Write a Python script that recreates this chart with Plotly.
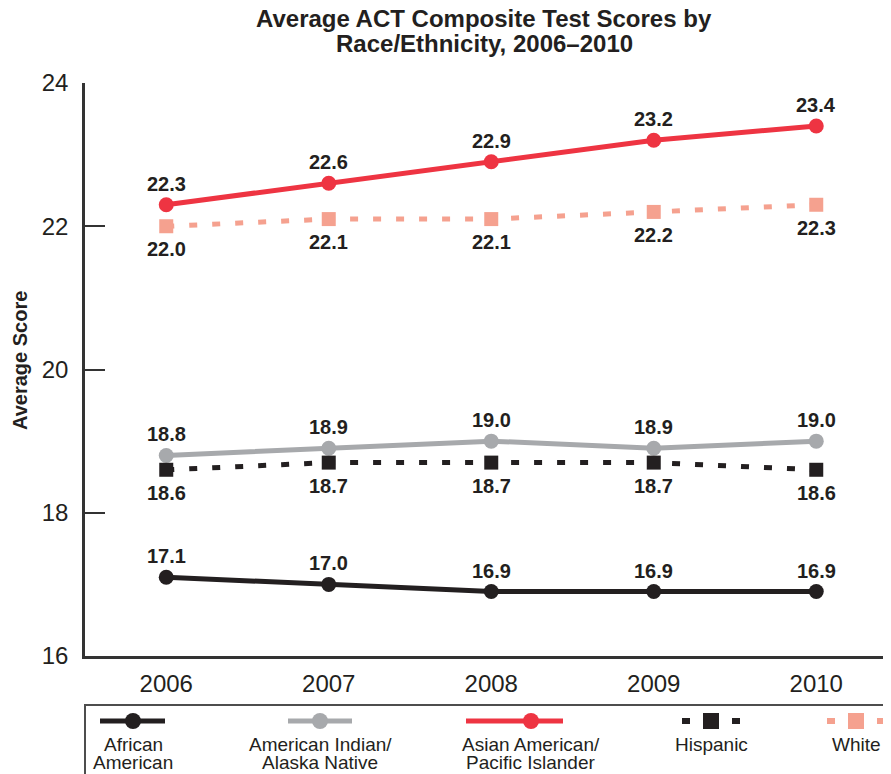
import plotly.graph_objects as go

# ---------------- data ----------------
years = [2006, 2007, 2008, 2009, 2010]
series_names = ["African American", "American Indian/Alaska Native",
                "Asian American/Pacific Islander", "Hispanic", "White"]
african_american = [17.1, 17.0, 16.9, 16.9, 16.9]
american_indian = [18.8, 18.9, 19.0, 18.9, 19.0]
asian_american = [22.3, 22.6, 22.9, 23.2, 23.4]
hispanic = [18.6, 18.7, 18.7, 18.7, 18.6]
white = [22.0, 22.1, 22.1, 22.2, 22.3]
legend_line1 = ["African", "American Indian/", "Asian American/", "Hispanic", "White"]
legend_line2 = ["American", "Alaska Native", "Pacific Islander", "", ""]
title_lines = ["Average ACT Composite Test Scores by", "Race/Ethnicity, 2006–2010"]
y_ticks = [16, 18, 20, 22, 24]

# ---------------- style ----------------
BLACK = "#231f20"
GRAY = "#a7a9ac"
RED = "#ee3442"
SALMON = "#f5a18f"
FONT = "Liberation Sans, Arial, Helvetica, sans-serif"

OFF = 8  # page body margin in the browser
W, H = 891 - OFF, 774 - OFF
L, T = 85 - OFF, 83 - OFF
B = H - (656 - OFF)
R = 0
PW, PH = W - L - R, H - T - B


def px(x):
    """reference page x-pixel -> paper coordinate"""
    return (x - OFF - L) / PW


def py(y):
    """reference page y-pixel -> paper coordinate"""
    return (H - B - (y - OFF)) / PH


series = [
    dict(name=series_names[0], y=african_american, color=BLACK, dash="solid", symbol="circle", label="above"),
    dict(name=series_names[1], y=american_indian, color=GRAY, dash="solid", symbol="circle", label="above"),
    dict(name=series_names[2], y=asian_american, color=RED, dash="solid", symbol="circle", label="above"),
    dict(name=series_names[3], y=hispanic, color=BLACK, dash="8px,15px", symbol="square", label="below"),
    dict(name=series_names[4], y=white, color=SALMON, dash="8px,15px", symbol="square", label="below"),
]

fig = go.Figure()
annotations = []
for s in series:
    fig.add_trace(go.Scatter(
        x=years, y=s["y"], name=s["name"], mode="lines+markers",
        line=dict(color=s["color"], width=5, dash=s["dash"]),
        marker=dict(symbol=s["symbol"], size=15 if s["symbol"] == "circle" else 14,
                    color=s["color"], line=dict(width=0)),
        showlegend=False, cliponaxis=False,
    ))
    for xv, yv in zip(years, s["y"]):
        annotations.append(dict(
            x=xv, y=yv, xref="x", yref="y", text=f"{yv:.1f}", showarrow=False,
            yshift=21 if s["label"] == "above" else -23,
            font=dict(family=FONT, size=20, color=BLACK, weight=700),
        ))

# ---------------- manual legend ----------------
shapes = []
shapes.append(dict(type="rect", xref="paper", yref="paper",
                   x0=px(85), x1=px(905), y0=py(705), y1=py(800),
                   line=dict(color="#4d4d4d", width=2), fillcolor="rgba(0,0,0,0)"))
leg_cy = 721
leg_centers = [133, 320, 531, 711, 856]
line_spans = [(100, 165), (288, 352), (466, 563)]
leg_colors = [BLACK, GRAY, RED, BLACK, SALMON]
for i in range(3):
    x0, x1 = line_spans[i]
    shapes.append(dict(type="line", xref="paper", yref="paper",
                       x0=px(x0), x1=px(x1), y0=py(leg_cy), y1=py(leg_cy),
                       line=dict(color=leg_colors[i], width=5)))
    c = leg_centers[i]
    shapes.append(dict(type="circle", xref="paper", yref="paper",
                       x0=px(c - 8), x1=px(c + 8), y0=py(leg_cy + 8), y1=py(leg_cy - 8),
                       fillcolor=leg_colors[i], line=dict(width=0)))
for i in (3, 4):
    c = leg_centers[i]
    col = leg_colors[i]
    shapes.append(dict(type="rect", xref="paper", yref="paper",
                       x0=px(c - 8), x1=px(c + 8), y0=py(leg_cy + 8), y1=py(leg_cy - 8),
                       fillcolor=col, line=dict(width=0)))
    for off in (-29, 21):
        shapes.append(dict(type="rect", xref="paper", yref="paper",
                           x0=px(c + off), x1=px(c + off + 8), y0=py(leg_cy + 3), y1=py(leg_cy - 3),
                           fillcolor=col, line=dict(width=0)))
for c, t1, t2 in zip(leg_centers, legend_line1, legend_line2):
    for txt, yc in ((t1, 744), (t2, 762)):
        if txt:
            annotations.append(dict(
                x=px(c), y=py(yc), xref="paper", yref="paper", text=txt, showarrow=False,
                xanchor="center", yanchor="middle", borderpad=0,
                font=dict(family=FONT, size=19, color=BLACK),
            ))

# y-axis title
annotations.append(dict(
    x=px(20), y=py(361), xref="paper", yref="paper", text="Average Score",
    textangle=-90, showarrow=False, xanchor="center", yanchor="middle",
    font=dict(family=FONT, size=20, color=BLACK, weight=700),
))
# title (two lines)
for txt, yc in zip(title_lines, (19, 44)):
    annotations.append(dict(
        x=px(484), y=py(yc), xref="paper", yref="paper", text=txt,
        showarrow=False, xanchor="center", yanchor="middle", borderpad=0,
        font=dict(family=FONT, size=24, color=BLACK, weight=700),
    ))

fig.update_layout(
    width=W, height=H,
    margin=dict(l=L, r=R, t=T, b=B),
    paper_bgcolor="white", plot_bgcolor="white",
    showlegend=False,
    annotations=annotations,
    shapes=shapes,
    xaxis=dict(
        range=[2005.5, 2010.46], tickvals=years, ticktext=[str(y) for y in years],
        showgrid=False, zeroline=False, showline=True, linecolor="#333333", linewidth=2.5,
        ticks="", tickfont=dict(family=FONT, size=24, color=BLACK), ticklabelstandoff=4,
    ),
    yaxis=dict(
        range=[16, 24], tickvals=y_ticks, showgrid=False, zeroline=False,
        showline=True, linecolor="#333333", linewidth=2.5,
        ticks="inside", ticklen=20, tickwidth=1.5, tickcolor="#333333",
        tickfont=dict(family=FONT, size=24, color=BLACK), ticklabelstandoff=9,
    ),
)

fig.write_html("out.html")
